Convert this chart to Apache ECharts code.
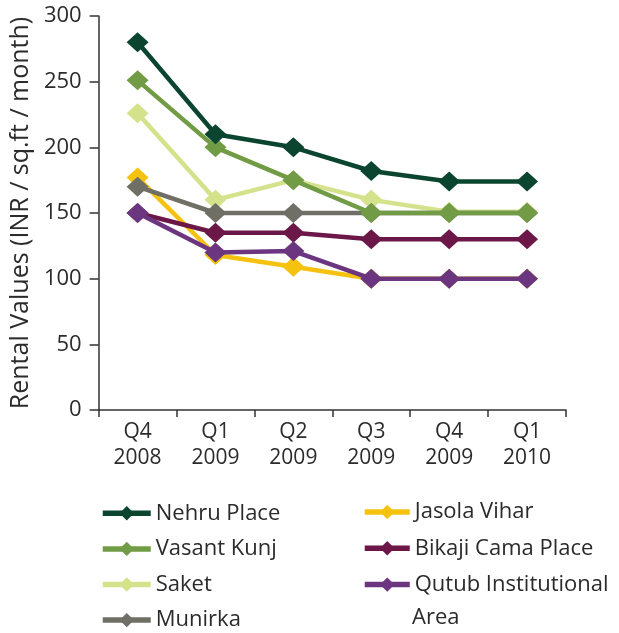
<!DOCTYPE html>
<html>
<head>
<meta charset="utf-8">
<script src="https://cdn.jsdelivr.net/npm/echarts@6/dist/echarts.min.js"></script>
<style>
  html, body { margin: 0; padding: 0; background: #fff; }
  #chart { width: 619px; height: 633px; }
</style>
</head>
<body>
<div id="chart"></div>
<script>
// Quarterly office rental values, South Delhi micro-markets
const quarters = ['Q4\n2008', 'Q1\n2009', 'Q2\n2009', 'Q3\n2009', 'Q4\n2009', 'Q1\n2010'];

const nehruPlace = [280, 210, 200, 182, 174, 174];
const vasantKunj = [251, 200, 175, 150, 150, 150];
const saket = [226, 160, 175, 160, 151, 151];
const munirka = [170, 150, 150, 150, 150, 150];
const jasolaVihar = [177, 118, 109, 100, 100, 100];
const bikajiCamaPlace = [150, 135, 135, 130, 130, 130];
const qutubInstitutional = [150, 120, 121, 100, 100, 100];

const yTicks = { min: 0, max: 300, interval: 50 };

const FONT = 'Open Sans';
const TEXT = '#2b2b2b';

function line(name, data, color, z) {
  return {
    name: name,
    type: 'line',
    data: data,
    z: z,
    symbol: 'diamond',
    symbolSize: [22, 20],
    lineStyle: { color: color, width: 4.5 },
    itemStyle: { color: color },
    emphasis: { disabled: true },
    animation: false
  };
}

const chart = echarts.init(document.getElementById('chart'), null, { renderer: 'canvas' });

const legendText = { fontFamily: FONT, fontSize: 22, color: TEXT, lineHeight: 22 };

chart.setOption({
  backgroundColor: '#fff',
  animation: false,
  textStyle: { fontFamily: FONT },
  grid: { left: 98, right: 53, top: 16, bottom: 223, containLabel: false },
  xAxis: {
    type: 'category',
    data: quarters,
    boundaryGap: true,
    axisLine: { lineStyle: { color: '#333', width: 1.5 } },
    axisTick: { show: true, length: 7, alignWithLabel: false, lineStyle: { color: '#333', width: 1.5 } },
    axisLabel: { fontFamily: FONT, fontSize: 21, color: TEXT, lineHeight: 26, margin: 9 },
    splitLine: { show: false }
  },
  yAxis: {
    type: 'value',
    min: yTicks.min,
    max: yTicks.max,
    interval: yTicks.interval,
    name: 'Rental Values (INR / sq.ft / month)',
    nameLocation: 'middle',
    nameGap: 63,
    nameTextStyle: { fontFamily: FONT, fontSize: 25, color: TEXT },
    axisLine: { show: true, lineStyle: { color: '#333', width: 1.5 } },
    axisTick: { show: true, length: 9, lineStyle: { color: '#333', width: 1.5 } },
    axisLabel: { fontFamily: FONT, fontSize: 22, color: TEXT, margin: 17 },
    splitLine: { show: false }
  },
  legend: [
    {
      data: ['Nehru Place', 'Vasant Kunj', 'Saket', 'Munirka'],
      orient: 'vertical',
      left: 100,
      top: 502.3,
      padding: 0,
      itemWidth: 48,
      itemHeight: 18,
      itemGap: 13.6,
      lineStyle: { width: 5.5 },
      textStyle: legendText,
      selectedMode: false
    },
    {
      data: ['Jasola Vihar', 'Bikaji Cama Place', 'Qutub Institutional Area'],
      orient: 'vertical',
      left: 362,
      top: 501,
      padding: 0,
      itemWidth: 45,
      itemHeight: 18,
      itemGap: 14.3,
      lineStyle: { width: 5.5 },
      formatter: function (name) {
        return name === 'Qutub Institutional Area' ? 'Qutub Institutional' : name;
      },
      textStyle: legendText,
      selectedMode: false
    }
  ],
  graphic: [
    {
      type: 'text',
      left: 412,
      top: 607,
      style: { text: 'Area', font: '22px "Open Sans"', fill: TEXT }
    }
  ],
  series: [
    line('Nehru Place', nehruPlace, '#0b4530', 7),
    line('Vasant Kunj', vasantKunj, '#719c45', 6),
    line('Saket', saket, '#d3e28b', 1),
    line('Munirka', munirka, '#6f6f66', 3),
    line('Jasola Vihar', jasolaVihar, '#f5c20f', 2),
    line('Bikaji Cama Place', bikajiCamaPlace, '#6b1748', 4),
    line('Qutub Institutional Area', qutubInstitutional, '#6b367f', 5)
  ]
});
</script>
</body>
</html>
